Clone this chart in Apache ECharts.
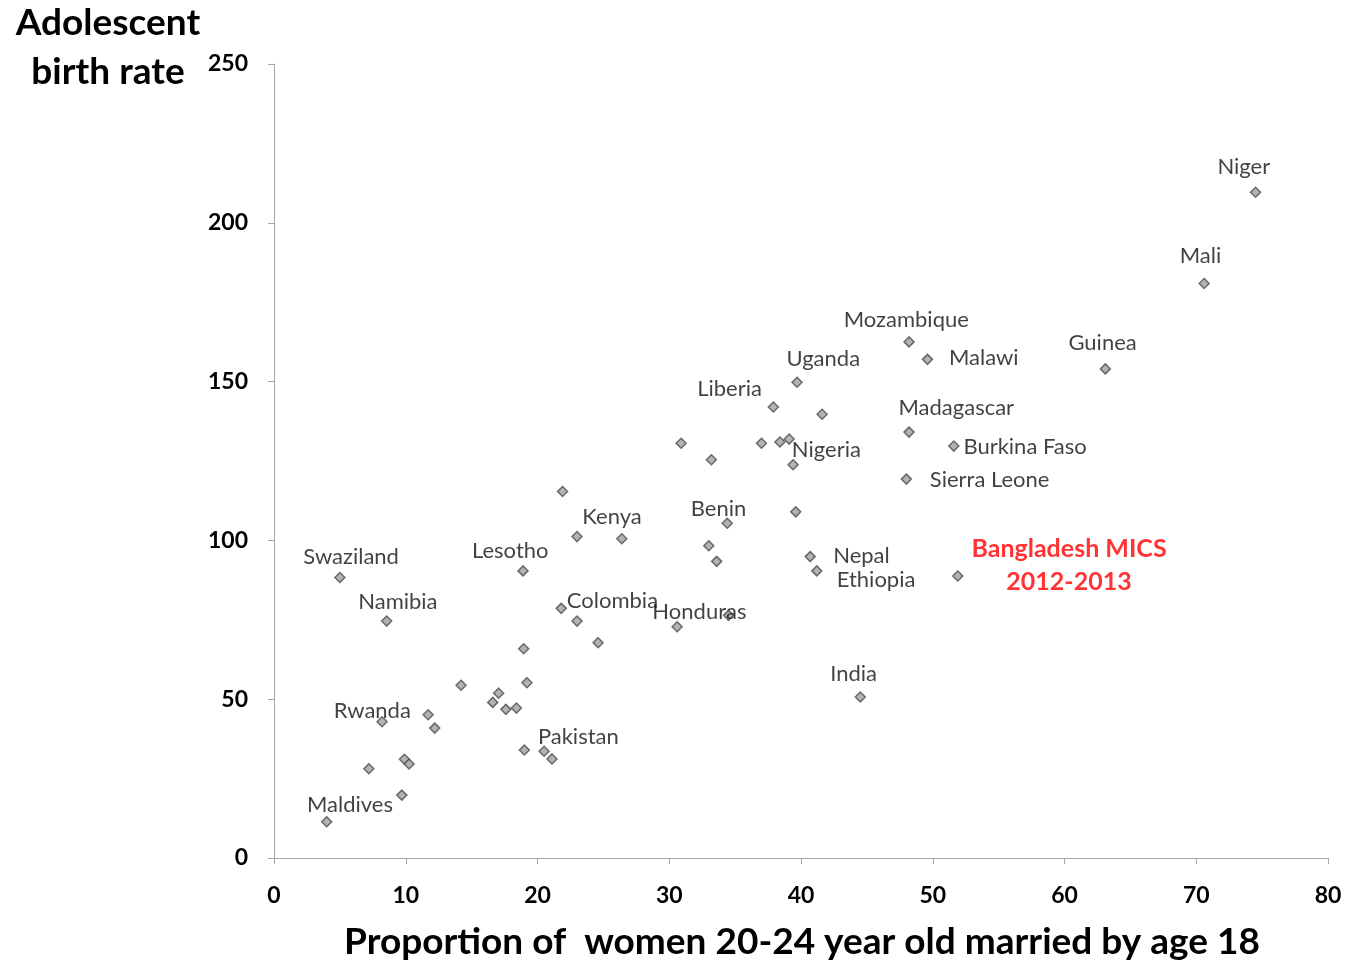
<!DOCTYPE html>
<html><head><meta charset="utf-8">
<script src="https://cdn.jsdelivr.net/npm/echarts@6/dist/echarts.min.js"></script>
<style>html,body{margin:0;padding:0;background:#fff}#c{width:1345px;height:962px}</style>
</head><body><div id="c"></div>
<script>
const countries = ['Niger','Mali','Guinea','Mozambique','Malawi','Madagascar','Burkina Faso','Sierra Leone','Bangladesh MICS\n2012-2013','India','Uganda','Liberia','','','','','','','Nigeria','','Benin','','','Nepal','Ethiopia','','Honduras','','','Kenya','Swaziland','Lesotho','Namibia','Colombia','','','','','','','','','','Rwanda','','','','Pakistan','','','','','','Maldives'];
const marriedBy18 = [74.5,70.6,63.1,48.2,49.6,48.2,51.6,48.0,51.9,44.5,39.7,37.9,41.6,30.9,33.2,37.0,38.4,39.1,39.4,39.6,34.4,33.0,33.6,40.7,41.2,34.5,30.6,21.9,23.0,26.4,5.0,18.9,8.55,21.8,23.0,24.6,18.95,19.2,14.2,17.05,16.6,17.6,18.4,8.2,11.7,12.2,19.0,20.5,21.1,7.2,9.9,10.25,9.7,4.0];
const birthRate = [209.6,180.9,154.0,162.5,157.0,134.1,129.7,119.3,88.8,50.7,149.8,142.0,139.7,130.6,125.4,130.6,131.0,131.9,123.8,109.0,105.4,98.3,93.4,94.9,90.4,76.4,72.8,115.4,101.2,100.5,88.3,90.4,74.6,78.6,74.6,67.8,65.9,55.2,54.4,51.9,49.0,46.8,47.2,42.9,45.1,40.9,34.0,33.6,31.2,28.1,31.1,29.6,19.8,11.4];
const xTicks = [0,10,20,30,40,50,60,70,80];
const yTicks = [0,50,100,150,200,250];

// label placement (style, not data): offset of label centre from its point, in px
const labelOffsets = {
  'Niger':[-11,-25],'Mali':[-3,-27],'Guinea':[-2,-25],'Mozambique':[-2,-21],'Malawi':[57,-1],
  'Madagascar':[48,-23],'Burkina Faso':[72,2],'Sierra Leone':[84,2],'Bangladesh MICS\n2012-2013':[112,-10],
  'India':[-6,-22],'Uganda':[27,-23],'Liberia':[-43,-17],'Nigeria':[34,-14],'Benin':[-8,-14],
  'Nepal':[52,0],'Ethiopia':[60,10],'Honduras':[23,-14],'Kenya':[-9,-21],'Swaziland':[12,-20],
  'Lesotho':[-12,-19],'Namibia':[12,-18],'Colombia':[52,-7],'Rwanda':[-9,-10],'Pakistan':[35,-14],'Maldives':[24,-16]
};
const FONT = 'Lato';
const SYM = 10;
const data = marriedBy18.map((x,i)=>{
  const name = countries[i];
  const item = {value:[x,birthRate[i]], name:name};
  if (name) {
    const red = name.indexOf('Bangladesh')===0;
    const off = labelOffsets[name]||[0,-20];
    item.label = {show:true, formatter:name, position:[SYM/2+off[0], SYM/2+off[1]],
      align:'center', verticalAlign:'middle', fontFamily:FONT,
      fontSize: red?25:22, fontWeight: red?'bold':'normal', color: red?'#ff0000':'#111', lineHeight: red?33:24};
  }
  return item;
});
const chart = echarts.init(document.getElementById('c'), null, {renderer:'canvas'});
chart.setOption({
  animation:false,
  grid:{left:274, right:17, top:64, bottom:104, containLabel:false},
  xAxis:{type:'value', min:xTicks[0], max:xTicks[xTicks.length-1], interval:10,
    axisLine:{show:true, lineStyle:{color:'#a6a6a6', width:1}},
    axisTick:{show:true, length:6, lineStyle:{color:'#a6a6a6'}},
    splitLine:{show:false},
    axisLabel:{margin:26, fontFamily:FONT, fontWeight:'bold', fontSize:23, color:'#000'}},
  yAxis:{type:'value', min:yTicks[0], max:yTicks[yTicks.length-1], interval:50,
    axisLine:{show:true, lineStyle:{color:'#a6a6a6', width:1}},
    axisTick:{show:true, length:6, lineStyle:{color:'#a6a6a6'}},
    splitLine:{show:false},
    axisLabel:{margin:26, fontFamily:FONT, fontWeight:'bold', fontSize:23, color:'#000'}},
  graphic:[
    {type:'text', x:108, y:23, style:{text:'Adolescent', font:'bold 37px '+FONT, fill:'#000', align:'center', verticalAlign:'middle'}},
    {type:'text', x:108, y:72, style:{text:'birth rate', font:'bold 37px '+FONT, fill:'#000', align:'center', verticalAlign:'middle'}},
    {type:'text', x:802, y:942, style:{text:'Proportion of  women 20-24 year old married by age 18', font:'bold 37px '+FONT, fill:'#000', align:'center', verticalAlign:'middle'}}
  ],
  series:[{type:'scatter', symbol:'diamond', symbolSize:SYM,
    itemStyle:{color:'#a0a0a0', borderColor:'#4d4d4d', borderWidth:1.5},
    label:{show:false}, labelLayout:{hideOverlap:false}, emphasis:{disabled:true},
    data:data}]
});
</script></body></html>
